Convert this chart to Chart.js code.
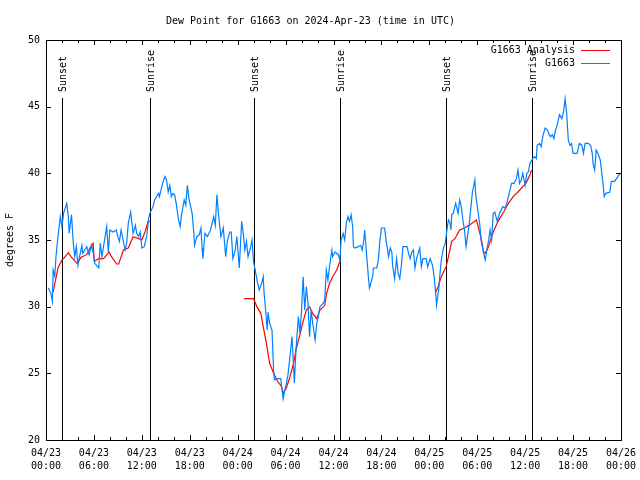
<!DOCTYPE html>
<html>
<head>
<meta charset="utf-8">
<script src="https://cdn.jsdelivr.net/npm/chart.js@4.4.1/dist/chart.umd.min.js"></script>
<style>
  body { margin: 0; background: #fff; }
  #dewChartCanvas { display: block; }
</style>
</head>
<body>
<canvas id="dewChartCanvas" width="640" height="480"></canvas>
<script>
// hours since 04/23 00:00 UTC
let stationHours = [
    0.3, 0.6, 0.8, 0.9, 1.1, 1.25, 1.5, 1.8, 2.0, 2.2, 2.6, 2.8, 2.9, 3.2, 3.4, 3.6, 3.8, 4.0, 4.2, 4.5,
    4.6, 5.1, 5.4, 5.7, 5.9, 6.1, 6.6, 6.8, 7.0, 7.4, 7.6, 7.8, 8.0, 8.4, 8.8, 9.0, 9.2, 9.4, 9.9, 10.1,
    10.3, 10.6, 10.9, 11.2, 11.35, 11.6, 11.8, 12.0, 12.3, 12.6, 12.85, 13.0, 13.4, 13.6, 14.1, 14.2, 14.6, 14.9, 15.1, 15.3,
    15.5, 15.7, 15.9, 16.1, 16.3, 16.6, 16.8, 17.0, 17.3, 17.5, 17.7, 17.9, 18.3, 18.5, 18.6, 18.9, 19.2, 19.4, 19.55, 19.65,
    19.9, 20.2, 20.6, 21.0, 21.2, 21.4, 21.6, 21.9, 22.2, 22.5, 22.7, 23.0, 23.2, 23.4, 23.7, 23.9, 24.2, 24.5, 24.7, 24.9,
    25.1, 25.3, 25.6, 25.8, 26.0, 26.2, 26.5, 26.7, 27.0, 27.2, 27.3, 27.5, 27.7, 27.8, 28.0, 28.3, 28.5, 28.6, 29.0, 29.4,
    29.5, 29.7, 29.9, 30.1, 30.3, 30.55, 30.8, 31.0, 31.1, 31.3, 31.6, 31.8, 32.0, 32.2, 32.4, 32.6, 32.8, 33.0, 33.2, 33.4,
    33.7, 33.9, 34.1, 34.3, 34.7, 34.9, 35.1, 35.3, 35.5, 35.8, 35.9, 36.2, 36.6, 36.8, 36.95, 37.2, 37.4, 37.6, 37.8, 38.0,
    38.2, 38.4, 38.5, 38.7, 39.1, 39.4, 39.6, 39.8, 39.9, 40.2, 40.4, 40.5, 40.9, 41.0, 41.4, 41.6, 41.8, 42.0, 42.4, 42.6,
    42.9, 43.1, 43.3, 43.4, 43.65, 43.9, 44.1, 44.3, 44.5, 44.7, 45.2, 45.4, 45.6, 45.8, 46.0, 46.2, 46.4, 46.8, 47.0, 47.2,
    47.6, 47.8, 48.1, 48.4, 48.6, 48.8, 48.9, 49.2, 49.3, 49.5, 49.8, 49.95, 50.15, 50.3, 50.4, 50.6, 50.7, 50.8, 51.0, 51.3,
    51.6, 51.8, 52.0, 52.2, 52.4, 52.6, 52.8, 53.0, 53.4, 53.7, 53.8, 54.1, 54.3, 54.5, 54.8, 55.0, 55.2, 55.4, 55.6, 55.8,
    56.0, 56.2, 56.5, 56.8, 57.2, 57.5, 57.7, 58.0, 58.3, 58.6, 58.9, 59.1, 59.3, 59.5, 59.7, 60.0, 60.2, 60.4, 60.6, 60.95,
    61.2, 61.4, 61.5, 61.8, 62.0, 62.2, 62.5, 62.8, 63.0, 63.2, 63.4, 63.6, 63.8, 64.0, 64.3, 64.6, 64.8, 65.0, 65.2, 65.4,
    65.6, 65.8, 66.0, 66.5, 66.8, 67.1, 67.3, 67.5, 67.9, 68.2, 68.4, 68.5, 68.7, 68.9, 69.1, 69.4, 69.6, 69.75, 69.9, 70.1,
    70.6, 70.8, 71.2, 71.6, 71.9
];
let stationDewPoint = [
    31.4, 31.0, 30.4, 32.75, 32.3, 33.75, 35.25, 36.75, 36.0, 37.0, 37.75, 36.75, 35.5, 36.9, 34.9, 33.75, 34.5, 33.1, 33.75, 34.6,
    34.0, 34.5, 33.9, 34.6, 34.1, 33.25, 32.9, 34.75, 33.75, 35.25, 36.0, 34.1, 35.75, 35.6, 35.75, 35.25, 34.9, 35.75, 34.25, 34.75,
    36.25, 37.1, 35.5, 36.1, 35.5, 35.25, 35.6, 34.4, 34.5, 35.25, 36.6, 37.0, 37.5, 38.0, 38.5, 38.25, 39.25, 39.75, 39.5, 38.6,
    39.1, 38.25, 38.5, 38.4, 37.75, 36.5, 36.0, 37.0, 38.0, 37.6, 39.1, 38.1, 37.0, 35.6, 34.6, 35.25, 35.4, 35.9, 34.4, 33.6,
    35.5, 35.25, 35.75, 36.75, 36.1, 38.4, 36.9, 35.25, 35.9, 33.75, 34.9, 35.6, 35.6, 33.6, 34.25, 35.25, 32.9, 36.4, 35.5, 34.25,
    34.9, 33.75, 34.4, 35.0, 33.3, 32.75, 31.75, 31.25, 31.75, 32.25, 31.1, 29.75, 28.25, 29.6, 28.75, 28.25, 25.25, 24.5, 24.6, 24.6,
    24.0, 23.1, 23.75, 24.25, 24.9, 26.25, 27.75, 25.5, 24.25, 26.75, 29.25, 28.0, 29.75, 32.25, 29.75, 31.5, 30.25, 27.75, 29.75, 28.75,
    27.5, 28.75, 29.25, 30.0, 30.25, 30.5, 32.75, 32.0, 33.0, 34.25, 33.75, 34.1, 33.9, 33.5, 35.0, 35.5, 35.0, 36.25, 36.75, 36.4,
    36.9, 36.0, 34.5, 34.4, 34.5, 34.6, 34.25, 35.0, 35.75, 33.5, 32.0, 31.4, 32.25, 32.9, 32.9, 33.4, 34.9, 35.9, 35.9, 34.9,
    33.75, 34.4, 34.1, 33.1, 32.1, 33.6, 32.5, 32.1, 33.1, 34.5, 34.5, 34.0, 33.6, 34.1, 34.25, 32.9, 33.6, 34.4, 33.0, 33.6,
    33.6, 33.0, 33.6, 33.1, 32.25, 31.0, 30.1, 31.4, 32.25, 33.5, 34.5, 34.6, 35.5, 36.2, 36.5, 36.25, 35.75, 36.9, 37.0, 37.75,
    37.0, 38.0, 37.5, 36.5, 35.75, 34.5, 35.4, 36.25, 38.6, 39.5, 38.4, 37.1, 36.25, 34.9, 34.0, 33.5, 34.25, 34.9, 35.75, 35.0,
    37.0, 37.1, 36.4, 37.0, 37.5, 37.4, 37.75, 38.5, 39.25, 39.25, 39.6, 40.25, 39.25, 39.5, 40.0, 39.1, 40.0, 40.1, 40.75, 41.1,
    41.25, 41.1, 42.1, 42.25, 42.0, 42.75, 43.4, 43.25, 42.9, 42.75, 42.9, 42.6, 43.25, 43.6, 44.4, 44.1, 44.6, 45.6, 44.5, 42.5,
    42.1, 42.25, 41.5, 41.5, 42.25, 42.1, 41.5, 42.25, 42.25, 42.1, 41.5, 40.75, 40.25, 41.75, 41.5, 41.0, 40.0, 39.25, 38.25, 38.5,
    38.6, 39.4, 39.4, 39.75, 40.0
];

// analysis only exists in three windows, null = gap
let analysisHours = [
    0.9, 1.2, 1.5, 2.0, 2.2, 2.8, 3.2, 3.9, 4.4, 5.1, 5.5, 5.9, 6.05, 6.6, 7.2, 7.9, 8.2, 8.85, 9.1, 9.7,
    10.3, 10.9, 11.6, 12.0, 12.4, 12.8, 13.1, 18.0,
    24.8, 26.0, 26.4, 26.9, 27.2, 27.6, 28.0, 28.5, 28.9, 29.5, 29.7, 30.1, 30.55, 31.0, 31.3, 31.8, 32.2, 32.6, 33.0, 33.4,
    33.9, 34.3, 34.9, 35.1, 35.5, 35.9, 36.4, 36.8, 42.0,
    48.8, 49.1, 49.5, 50.1, 50.4, 50.8, 51.2, 51.8, 52.4, 53.0, 53.9, 54.5, 54.8, 55.0, 55.4, 56.0, 56.6, 57.3, 57.9, 58.5,
    59.1, 59.7, 60.1, 60.6, 60.8
];
let analysisDewPoint = [
    31.1, 32.0, 32.9, 33.5, 33.6, 34.05, 33.7, 33.25, 33.7, 33.9, 34.4, 34.75, 33.4, 33.6, 33.6, 34.1, 33.75, 33.2, 33.2, 34.25,
    34.4, 35.25, 35.1, 35.0, 35.6, 36.4, 36.4, null,
    30.6, 30.6, 30.0, 29.5, 28.5, 27.25, 25.75, 25.0, 24.5, 24.0, 23.5, 23.9, 24.75, 25.75, 26.75, 27.9, 28.9, 29.75, 30.0, 29.5,
    29.1, 29.75, 30.1, 30.9, 31.75, 32.25, 32.75, 33.4, null,
    31.1, 31.5, 32.25, 33.0, 33.75, 34.9, 35.1, 35.75, 35.9, 36.1, 36.5, 35.1, 34.1, 34.0, 34.5, 35.6, 36.4, 37.1, 37.75, 38.25,
    38.6, 39.0, 39.25, 39.9, 40.25
];

let sunHours = [2.0, 13.0, 26.05, 36.8, 50.1, 60.9];
let sunLabels = ['Sunset', 'Sunrise', 'Sunset', 'Sunrise', 'Sunset', 'Sunrise'];

let xTickLabels = [
    ['04/23', '00:00'], ['04/23', '06:00'], ['04/23', '12:00'], ['04/23', '18:00'],
    ['04/24', '00:00'], ['04/24', '06:00'], ['04/24', '12:00'], ['04/24', '18:00'],
    ['04/25', '00:00'], ['04/25', '06:00'], ['04/25', '12:00'], ['04/25', '18:00'],
    ['04/26', '00:00']
];

const FONT = 'DejaVu Sans Mono';
Chart.defaults.font.family = FONT;
Chart.defaults.font.size = 10;
Chart.defaults.color = '#000';

function toPoints(xs, ys) {
    return xs.map((x, i) => ({x: x, y: ys[i]}));
}

// gnuplot-like frame: box, inward ticks, sun markers, legend
let gnuplotFrame = {
    id: 'gnuplotFrame',
    beforeDraw(chart) {
        let ctx = chart.ctx;
        ctx.save();
        ctx.fillStyle = '#fff';
        ctx.fillRect(0, 0, chart.width, chart.height);
        ctx.restore();
    },
    beforeDatasetsDraw(chart) {
        let ctx = chart.ctx;
        let a = chart.chartArea;
        let xs = chart.scales.x;
        ctx.save();
        ctx.strokeStyle = '#000';
        ctx.lineWidth = 1;
        ctx.fillStyle = '#000';
        ctx.font = '10px ' + FONT;
        for (let i = 0; i < sunHours.length; i++) {
            let px = Math.round(xs.getPixelForValue(sunHours[i])) + 0.5;
            ctx.beginPath();
            ctx.moveTo(px, a.top + 58);
            ctx.lineTo(px, a.bottom);
            ctx.stroke();
            ctx.save();
            ctx.translate(px + 1, a.top + 52);
            ctx.rotate(-Math.PI / 2);
            ctx.textAlign = 'left';
            ctx.textBaseline = 'middle';
            ctx.fillText(sunLabels[i], 0, 0);
            ctx.restore();
        }
        ctx.restore();
    },
    afterDraw(chart) {
        let ctx = chart.ctx;
        let a = chart.chartArea;
        let xs = chart.scales.x;
        let ys = chart.scales.y;
        ctx.save();
        ctx.strokeStyle = '#000';
        ctx.lineWidth = 1;
        ctx.strokeRect(Math.round(a.left) + 0.5, Math.round(a.top) + 0.5,
            Math.round(a.right - a.left), Math.round(a.bottom - a.top));
        ctx.beginPath();
        for (let h = 0; h <= 72; h += 2) {
            let px = Math.round(xs.getPixelForValue(h)) + 0.5;
            let len = h % 6 === 0 ? 5 : 3;
            ctx.moveTo(px, a.bottom);
            ctx.lineTo(px, a.bottom - len);
            ctx.moveTo(px, a.top);
            ctx.lineTo(px, a.top + len);
        }
        for (let v = 20; v <= 50; v += 5) {
            let py = Math.round(ys.getPixelForValue(v)) + 0.5;
            ctx.moveTo(a.left, py);
            ctx.lineTo(a.left + 5, py);
            ctx.moveTo(a.right, py);
            ctx.lineTo(a.right - 5, py);
        }
        ctx.stroke();

        // legend, top right inside the plot
        ctx.font = '10px ' + FONT;
        ctx.textAlign = 'right';
        ctx.textBaseline = 'middle';
        ctx.fillStyle = '#000';
        let legendItems = [chart.data.datasets[0], chart.data.datasets[1]];
        legendItems.forEach((ds, i) => {
            let y = a.top + 10 + i * 13;
            ctx.fillText(ds.label, a.right - 46, y);
            ctx.strokeStyle = ds.borderColor;
            ctx.beginPath();
            ctx.moveTo(a.right - 40, Math.round(y) + 0.5);
            ctx.lineTo(a.right - 11, Math.round(y) + 0.5);
            ctx.stroke();
        });
        ctx.restore();
    }
};

let dewCtx = document.getElementById('dewChartCanvas').getContext('2d');

let dewChart = new Chart(dewCtx, {
    type: 'line',
    data: {
        datasets: [{
            label: 'G1663 Analysis',
            data: toPoints(analysisHours, analysisDewPoint),
            borderColor: '#ff0000',
            borderWidth: 1.2,
            pointRadius: 0,
            spanGaps: false,
            order: 1
        }, {
            label: 'G1663',
            data: toPoints(stationHours, stationDewPoint),
            borderColor: '#0080ff',
            borderWidth: 1.2,
            pointRadius: 0,
            order: 0
        }]
    },
    options: {
        responsive: false,
        animation: false,
        layout: {
            padding: {left: 0, right: 19, top: 0, bottom: 0}
        },
        scales: {
            x: {
                type: 'linear',
                min: 0,
                max: 72,
                grid: {display: false, drawTicks: false},
                border: {display: false},
                afterFit(scale) {
                    scale.height = 40;
                    // let the layout padding alone decide the plot edges
                    scale.paddingLeft = 0;
                    scale.paddingRight = 0;
                },
                ticks: {
                    stepSize: 6,
                    autoSkip: false,
                    maxRotation: 0,
                    padding: 7,
                    font: {size: 10, lineHeight: 1.3},
                    callback: (value) => xTickLabels[value / 6]
                }
            },
            y: {
                min: 20,
                max: 50,
                grid: {display: false, drawTicks: false},
                border: {display: false},
                afterFit(scale) { scale.width = 46; },
                title: {
                    display: true,
                    text: 'degrees F',
                    font: {size: 10}
                },
                ticks: {
                    stepSize: 5,
                    padding: 6
                }
            }
        },
        plugins: {
            legend: {display: false},
            tooltip: {enabled: false},
            title: {
                display: true,
                text: 'Dew Point for G1663 on 2024-Apr-23 (time in UTC)',
                font: {size: 10, weight: 'normal'},
                padding: {top: 15, bottom: 13}
            }
        }
    },
    plugins: [gnuplotFrame]
});
</script>
</body>
</html>
